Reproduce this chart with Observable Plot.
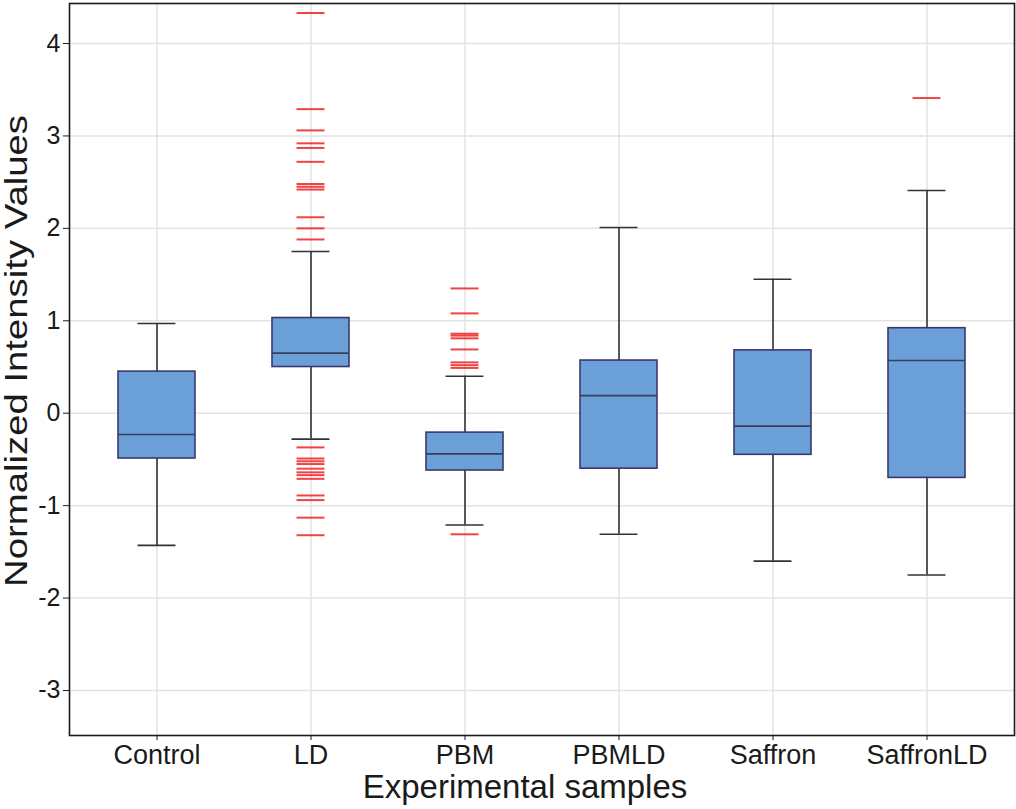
<!DOCTYPE html>
<html>
<head>
<meta charset="utf-8">
<script src="https://cdn.jsdelivr.net/npm/d3@7"></script>
<script src="https://cdn.jsdelivr.net/npm/@observablehq/plot@0.6"></script>
<style>
  html, body { margin: 0; padding: 0; background: #fff; }
  #chart { width: 1016px; height: 809px; }
  svg { font-family: "Liberation Sans", Arial, Helvetica, sans-serif; }
</style>
</head>
<body>
<div id="chart"></div>
<script>
// Categories and box statistics
const categories = ["Control", "LD", "PBM", "PBMLD", "Saffron", "SaffronLD"];
const lowerWhisker = [-1.43, -0.28, -1.21, -1.31, -1.60, -1.75];
const q1Values     = [-0.49, 0.50, -0.62, -0.60, -0.45, -0.70];
const medianValues = [-0.23, 0.65, -0.44, 0.19, -0.14, 0.57];
const q3Values     = [0.45, 1.03, -0.21, 0.57, 0.68, 0.92];
const upperWhisker = [0.97, 1.75, 0.40, 2.01, 1.45, 2.41];

// Outliers
const outliersLD = [4.33, 3.29, 3.06, 2.92, 2.87, 2.72, 2.48, 2.45, 2.42, 2.12, 2.00, 1.88,
  -0.37, -0.49, -0.52, -0.55, -0.60, -0.64, -0.67, -0.71, -0.89, -0.94, -1.13, -1.32];
const outliersPBM = [1.35, 1.08, 0.86, 0.84, 0.81, 0.69, 0.55, 0.52, 0.49, -1.31];
const outliersSaffronLD = [3.41];

const yTicks = [-3, -2, -1, 0, 1, 2, 3, 4];

const boxes = categories.map((c, i) => ({
  name: c, lo: lowerWhisker[i], q1: q1Values[i], med: medianValues[i], q3: q3Values[i], hi: upperWhisker[i]
}));
const outliers = [
  ...outliersLD.map(v => ({name: "LD", v})),
  ...outliersPBM.map(v => ({name: "PBM", v})),
  ...outliersSaffronLD.map(v => ({name: "SaffronLD", v}))
];

const W = 1016, H = 809, mL = 69, mR = 2, mT = 3, mB = 74;
const pIn = 0.5, pOut = 0.315;
const step = (W - mL - mR) / (categories.length - pIn + 2 * pOut);
const bw = step * (1 - pIn);
const capInset = (bw - 38) / 2;
const outInset = (bw - 28) / 2;

const plot = Plot.plot({
  width: W, height: H,
  marginLeft: mL, marginRight: mR, marginTop: mT, marginBottom: mB,
  style: {fontFamily: '"Liberation Sans", Arial, Helvetica, sans-serif', background: "#fff"},
  x: {type: "band", domain: categories, paddingInner: pIn, paddingOuter: pOut, label: null},
  y: {domain: [-3.487, 4.433], label: null},
  marks: [
    Plot.ruleY(yTicks, {stroke: "#e3e3e3", strokeWidth: 1.5}),
    Plot.ruleX(categories, {stroke: "#e3e3e3", strokeWidth: 1.5}),
    Plot.ruleX(boxes, {x: "name", y1: "lo", y2: "hi", stroke: "#333", strokeWidth: 1.6}),
    Plot.barY(boxes, {x: "name", y1: "q1", y2: "q3", fill: "#6a9fd8", stroke: "#3a376e", strokeWidth: 1.6}),
    Plot.tickY(boxes, {x: "name", y: "med", stroke: "#37405a", strokeWidth: 1.6}),
    Plot.tickY(boxes, {x: "name", y: "hi", stroke: "#333", strokeWidth: 1.6, insetLeft: capInset, insetRight: capInset}),
    Plot.tickY(boxes, {x: "name", y: "lo", stroke: "#333", strokeWidth: 1.6, insetLeft: capInset, insetRight: capInset}),
    Plot.tickY(outliers, {x: "name", y: "v", stroke: "#ee2222", strokeOpacity: 0.85, strokeWidth: 2, insetLeft: outInset, insetRight: outInset}),
    Plot.frame({stroke: "#1a1a1a", strokeWidth: 1.6}),
    Plot.axisY({ticks: yTicks, tickSize: 6, tickPadding: 3, fontSize: 25, color: "#1a1a1a", label: null, tickFormat: d => d < 0 ? "-" + Math.abs(d) : String(d)}),
    Plot.axisX({tickSize: 5, tickPadding: 4, fontSize: 27, color: "#1a1a1a", label: null})
  ]
});

document.getElementById("chart").appendChild(plot);

const svg = d3.select(plot);
svg.append("text")
  .attr("x", 525).attr("y", 798)
  .attr("text-anchor", "middle")
  .attr("font-size", 33)
  .attr("fill", "#1a1a1a")
  .text("Experimental samples");
svg.append("text")
  .attr("transform", "translate(27,351) rotate(-90)")
  .attr("text-anchor", "middle")
  .attr("font-size", 31)
  .attr("fill", "#1a1a1a")
  .attr("textLength", 472)
  .attr("lengthAdjust", "spacingAndGlyphs")
  .text("Normalized Intensity Values");
</script>
</body>
</html>
